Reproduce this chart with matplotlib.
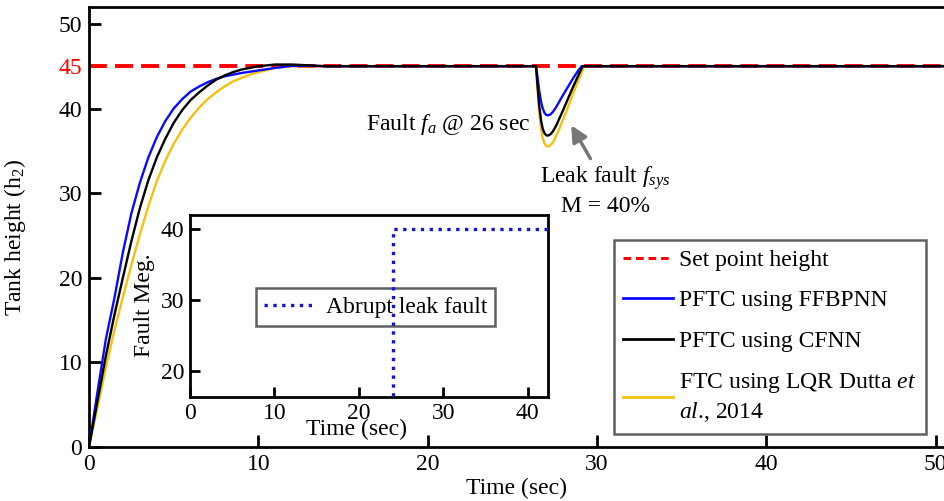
import matplotlib.pyplot as plt

plt.rcParams['font.family'] = ['Liberation Serif', 'DejaVu Serif']
plt.rcParams['mathtext.fontset'] = 'custom'
plt.rcParams['mathtext.rm'] = 'Liberation Serif'
plt.rcParams['mathtext.it'] = 'Liberation Serif:italic'
plt.rcParams['font.size'] = 17

# --------- data
set_point = 45
t_max = 50.5

t_ffbpnn = [0, 0.5, 1, 1.5, 2, 2.5, 3, 3.5, 4, 4.5, 5, 5.5, 6, 6.5, 7, 7.5, 8, 9, 10, 11, 12, 13, 14,
            26.4, 26.5, 26.6, 26.7, 26.8, 26.9, 27.0, 27.1, 27.25, 27.4, 27.6, 27.8, 28.0, 28.3, 28.6, 28.9, 29.1,
            50.5]
h_ffbpnn = [0, 6.5, 12.8, 17.6, 23.0, 27.6, 31.2, 34.2, 36.6, 38.5, 40.0, 41.1, 42.0, 42.6, 43.1, 43.5, 43.8,
            44.2, 44.5, 44.8, 45.05, 45.05, 45.0,
            45.0, 43.6, 42.0, 40.8, 40.0, 39.5, 39.25, 39.2, 39.3, 39.6, 40.2, 40.9, 41.6, 42.6, 43.6, 44.5, 45.0,
            45.0]

t_cfnn = [0, 0.5, 1, 1.5, 2, 2.5, 3, 3.5, 4, 4.5, 5, 5.5, 6, 6.5, 7, 7.5, 8, 8.5, 9, 10, 11, 12, 13, 14,
          26.4, 26.5, 26.6, 26.7, 26.8, 26.9, 27.0, 27.1, 27.25, 27.4, 27.6, 27.8, 28.0, 28.3, 28.6, 28.9, 29.15,
          50.5]
h_cfnn = [0, 5.4, 10.8, 15.6, 20.0, 24.3, 28.2, 31.5, 34.2, 36.4, 38.3, 39.8, 41.0, 41.9, 42.7, 43.4, 43.9,
          44.3, 44.6, 45.0, 45.2, 45.2, 45.1, 45.0,
          45.0, 42.5, 40.2, 38.6, 37.6, 37.1, 36.85, 36.8, 36.95, 37.3, 38.0, 38.9, 39.8, 41.2, 42.6, 43.9, 45.0,
          45.0]

t_lqr = [0, 0.5, 1, 1.5, 2, 2.5, 3, 3.5, 4, 4.5, 5, 5.5, 6, 6.5, 7, 7.5, 8, 8.5, 9, 9.5, 10, 11, 12, 14,
         26.4, 26.5, 26.6, 26.7, 26.8, 26.9, 27.0, 27.1, 27.25, 27.4, 27.6, 27.8, 28.0, 28.3, 28.6, 28.9, 29.25,
         50.5]
h_lqr = [0, 4.7, 9.4, 13.8, 17.7, 21.5, 25.1, 28.4, 31.4, 33.8, 35.8, 37.5, 38.9, 40.1, 41.1, 41.9, 42.6,
         43.2, 43.6, 44.0, 44.3, 44.8, 45.0, 45.0,
         45.0, 42.0, 39.4, 37.6, 36.5, 35.9, 35.6, 35.5, 35.65, 36.0, 36.8, 37.7, 38.7, 40.2, 41.8, 43.3, 45.0,
         45.0]

# inset: fault magnitude
t_fault = [0, 24, 24, 45]
m_fault = [0, 0, 40, 40]

labels = ['Set point height', 'PFTC using FFBPNN', 'PFTC using CFNN',
          'FTC using LQR Dutta $\\it{et}$\n$\\it{al}$., 2014']

# --------- plotting
fig = plt.figure(figsize=(9.44, 5.01), dpi=100)
ax = fig.add_axes([89 / 944, 1 - 447 / 501, 855 / 944, 440 / 501])

ax.plot([0, t_max], [set_point, set_point], color='#ff0000', lw=2.8, dashes=(4.6, 2.1), zorder=2)
ax.plot(t_lqr, h_lqr, color='#f7c010', lw=1.7, zorder=3)
ax.plot(t_ffbpnn, h_ffbpnn, color='#0a0aff', lw=1.7, zorder=3)
ax.plot(t_cfnn, h_cfnn, color='black', lw=1.7, zorder=4)

ax.set_xlim(0, t_max)
ax.set_ylim(0, 52)
ax.set_xticks([0, 10, 20, 30, 40, 50])
ax.set_yticks([0, 10, 20, 30, 40, 45, 50])
ax.tick_params(direction='in', length=8.5, width=2, pad=5)
for s in ax.spines.values():
    s.set_linewidth(2)
ax.spines['right'].set_visible(False)
ax.get_yticklabels()[5].set_color('#ff0000')

ax.set_xlabel('Time (sec)')
ax.xaxis.set_label_coords(0.5, -0.07)
ax.set_ylabel('Tank height (h$_2$)')
ax.yaxis.set_label_coords(-61 / 855, 0.475)

ax.text(26.1, 38.1, 'Fault $f_a$ @ 26 sec', ha='right', va='center')
ax.text(30.5, 30.3, 'Leak fault $f_{sys}$\nM = 40%', ha='center', va='center', linespacing=1.25)
ax.annotate('', xy=(28.4, 38.3), xytext=(29.7, 33.8),
            arrowprops=dict(arrowstyle='-|>', color='#777777', lw=2.5, mutation_scale=24))

h = [plt.Line2D([], [], color='#ff0000', lw=2.2, dashes=(2.5, 1.6)),
     plt.Line2D([], [], color='#0a0aff', lw=2),
     plt.Line2D([], [], color='black', lw=2),
     plt.Line2D([], [], color='#f7c010', lw=2)]
leg = ax.legend(h, labels, loc='upper left', bbox_to_anchor=(614 / 944, 1 - 240 / 501),
                bbox_transform=fig.transFigure, borderaxespad=0, fancybox=False,
                edgecolor='#606060', framealpha=1, handlelength=2.1, handletextpad=0.25,
                labelspacing=0.8, borderpad=0.4)
leg.get_frame().set_linewidth(1.8)
leg.get_texts()[3].set_linespacing(1.3)

# inset
axi = fig.add_axes([190 / 944, 1 - 397 / 501, 358 / 944, 182 / 501])
axi.plot(t_fault, m_fault, color='#1515d0', lw=2.4, ls=':', zorder=6, label='Abrupt leak fault')
axi.set_xlim(0, 42.4)
axi.set_ylim(16.3, 42)
axi.set_xticks([0, 10, 20, 30, 40])
axi.set_yticks([20, 30, 40])
axi.tick_params(direction='in', length=7, width=2, pad=4)
for s in axi.spines.values():
    s.set_linewidth(2)
axi.set_xlabel('Time (sec)')
axi.xaxis.set_label_coords(0.466, -0.12)
axi.set_ylabel('Fault Meg.')
axi.yaxis.set_label_coords(-0.098, 0.505)
leg2 = axi.legend(loc='upper left', bbox_to_anchor=(256 / 944, 1 - 288 / 501),
                  bbox_transform=fig.transFigure, borderaxespad=0, fancybox=False,
                  edgecolor='#606060', framealpha=1, handlelength=2.1, handletextpad=0.5,
                  borderpad=0.35)
leg2.get_frame().set_linewidth(1.8)
leg2.set_zorder(1)

fig.savefig('out.png', dpi=100)
